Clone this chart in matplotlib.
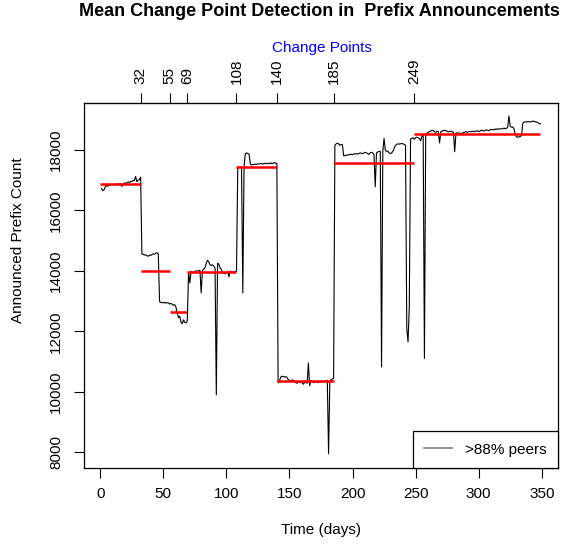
import matplotlib
matplotlib.use("Agg")
import matplotlib.pyplot as plt
import numpy as np

plt.rcParams['font.family'] = ['Liberation Sans', 'DejaVu Sans']

# ---- data ----
seg1 = [16720, 16650, 16680, 16780, 16820, 16800, 16850, 16830, 16860, 16840,
        16850, 16870, 16860, 16880, 16860, 16880, 16790, 16870, 16900, 16910,
        16890, 16940, 16920, 16960, 16950, 16990, 16980, 17120, 16950, 17000,
        17010, 17100]                                   # days 1-32
seg2 = [14560, 14550, 14520, 14530, 14500, 14480, 14520, 14510, 14540, 14560,
        14550, 14580, 14600, 14560, 12980, 12960, 12950, 12940, 12960, 12930,
        12950, 12940, 12900]                            # days 33-55
seg3 = [12920, 12900, 12860, 12880, 12800, 12600, 12450, 12500, 12300, 12250,
        12380, 12300, 12280, 12350]                     # days 56-69
seg4 = [13950, 13600, 13980, 13950, 13960, 13980, 14000, 13990, 14000, 14020,
        13270, 14020, 14050, 14100, 14250, 14350, 14300, 14200, 14180, 14200,
        14150, 14100, 9900, 14250, 14220, 14100, 14050, 13950, 13920, 13900,
        13950, 13980, 13800, 14000, 13950, 13960, 13970, 13980, 13990]  # days 70-108
seg5 = [17400, 17420, 17450, 17400, 13270, 17450, 17880, 17900, 17880, 17850,
        17520, 17500, 17520, 17510, 17530, 17520, 17540, 17530, 17550, 17540,
        17530, 17560, 17540, 17550, 17560, 17540, 17570, 17550, 17560, 17580,
        17550, 17560]                                   # days 109-140
seg6 = [10300, 10350, 10480, 10520, 10500, 10490, 10500, 10480, 10400, 10380,
        10370, 10390, 10380, 10360, 10300, 10280, 10350, 10300, 10320, 10300,
        10250, 10300, 10320, 10280, 10950, 10200, 10380, 10350, 10320, 10300,
        10350, 10330, 10300, 10340, 10320, 10350, 10330, 10360, 10340, 10380,
        7950, 10350, 10400, 10420, 10450]               # days 141-185
seg7 = [18150, 18200, 18220, 18200, 18150, 18180, 18170, 17800, 17820, 17810,
        17840, 17830, 17860, 17850, 17840, 17870, 17860, 17880, 17860, 17880,
        17900, 17890, 17870, 17900, 17920, 17900, 17880, 17850, 17900, 17920,
        17900, 17850, 16780, 17900, 17930, 17950, 17950, 10820, 17950, 18380,
        17980, 17950, 17960, 17900, 17880, 17900, 17950, 18050, 18150, 18180,
        18200, 18190, 18200, 18210, 18200, 18180, 18150, 12100, 11650, 12800,
        18350, 18380, 18400, 18350]                     # days 186-249
seg8 = [18400, 18420, 18400, 18380, 18300, 18450, 18500, 11100, 18450, 18550,
        18580, 18600, 18620, 18650, 18640, 18600, 18580, 18620, 18600, 18230,
        18600, 18620, 18640, 18650, 18630, 18620, 18600, 18610, 18620, 18600,
        18580, 17940, 18560, 18560, 18550, 18560, 18540, 18550, 18580, 18590,
        18600, 18580, 18600, 18610, 18600, 18620, 18600, 18610, 18620, 18630,
        18600, 18620, 18650, 18640, 18620, 18640, 18660, 18650, 18630, 18660,
        18680, 18670, 18660, 18690, 18680, 18700, 18680, 18700, 18690, 18700,
        18720, 18700, 18710, 18750, 19120, 18780, 18750, 18760, 18700, 18500,
        18430, 18420, 18430, 18440, 18480, 18880, 18920, 18930, 18920, 18940,
        18930, 18920, 18940, 18950, 18940, 18930, 18920, 18900, 18870, 18860]  # days 250-349

prefix_count = seg1 + seg2 + seg3 + seg4 + seg5 + seg6 + seg7 + seg8
days = list(range(1, len(prefix_count) + 1))

change_points = [32, 55, 69, 108, 140, 185, 249]
segment_means = [16870, 13990, 12640, 13960, 17440, 10350, 17570, 18540]
x_ticks = [0, 50, 100, 150, 200, 250, 300, 350]
y_ticks = [8000, 10000, 12000, 14000, 16000, 18000]

# ---- figure ----
fig = plt.figure(figsize=(5.61, 5.45), dpi=100)
ax = fig.add_axes([84 / 561, 77 / 545, 474 / 561, 365 / 545])

ax.plot(days, prefix_count, color='black', lw=0.8, label='>88% peers')

bounds = [0] + change_points + [days[-1]]
for i, m in enumerate(segment_means):
    ax.plot([bounds[i], bounds[i + 1]], [m, m], color='red', lw=1.8,
            solid_capstyle='butt')

ax.set_xlim(-12.9, 362.9)
ax.set_ylim(7480, 19550)
ax.set_xticks(x_ticks)
ax.set_yticks(y_ticks)
ax.set_yticklabels([str(v) for v in y_ticks], rotation=90, va='center')
ax.tick_params(axis='both', direction='out', length=7, width=0.8,
               labelsize=11, colors='black')
ax.tick_params(axis='x', pad=7)
ax.tick_params(axis='y', pad=8)
for sp in ax.spines.values():
    sp.set_linewidth(0.9)

top = ax.secondary_xaxis('top')
top.set_xticks(change_points)
top.set_xticklabels([str(c) for c in change_points], rotation=90)
top.tick_params(direction='out', length=7, width=0.8, labelsize=11, pad=7)

leg = ax.legend(loc='lower right', borderaxespad=0, fancybox=False,
                edgecolor='black', framealpha=1, fontsize=11,
                handlelength=1.8, borderpad=0.75, handletextpad=0.85)
leg.get_frame().set_linewidth(0.9)
for ln in leg.get_lines():
    ln.set_color('#808080')
    ln.set_linewidth(1.2)

fig.text(0.570, 0.978, 'Mean Change Point Detection in  Prefix Announcements',
         ha='center', va='center', fontsize=13, fontweight='bold')
fig.text(0.573, 0.912, 'Change Points', ha='center', va='center',
         fontsize=11, color='blue')
fig.text(0.573, 0.027, 'Time (days)', ha='center', va='center', fontsize=11)
fig.text(0.032, 0.56, 'Announced Prefix Count', ha='center', va='center',
         rotation=90, fontsize=11)

fig.savefig('out.png', dpi=100)
